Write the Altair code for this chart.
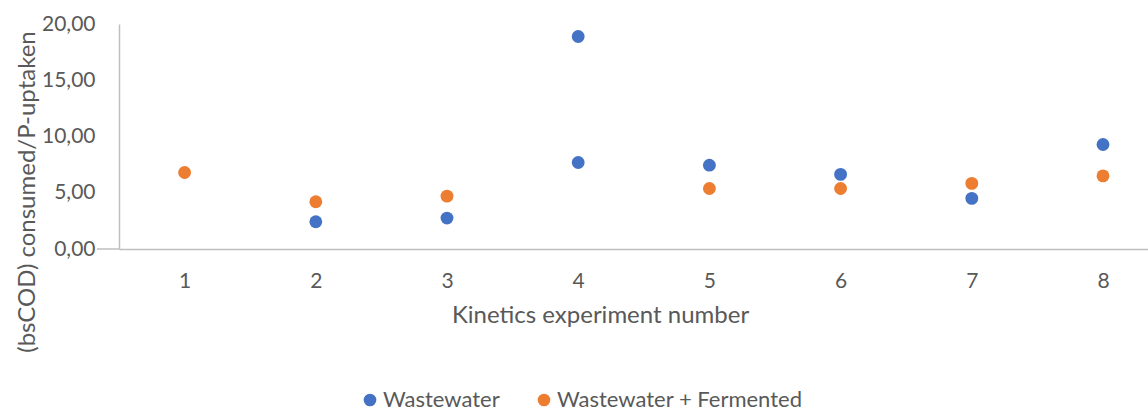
import altair as alt
import pandas as pd

# Kinetics experiments: (bsCOD) consumed / P uptaken
ww_experiment = [2, 3, 4, 4, 5, 6, 7, 8]
ww_ratio = [2.42, 2.75, 18.89, 7.69, 7.45, 6.63, 4.50, 9.29]

wf_experiment = [1, 2, 3, 5, 6, 7, 8]
wf_ratio = [6.80, 4.20, 4.70, 5.38, 5.38, 5.83, 6.50]

series_names = ["Wastewater", "Wastewater + Fermented"]
series_colors = ["#4472C4", "#ED7D31"]
y_ticks = [0, 5, 10, 15, 20]
x_ticks = [1, 2, 3, 4, 5, 6, 7, 8]

df = pd.concat([
    pd.DataFrame({"experiment": ww_experiment, "ratio": ww_ratio, "series": series_names[0]}),
    pd.DataFrame({"experiment": wf_experiment, "ratio": wf_ratio, "series": series_names[1]}),
], ignore_index=True)

FONT = "Lato"
TEXT = "#595959"
LINE = "#BFBFBF"
W, H = 1029, 225

x_scale = alt.Scale(domain=[0.5, 8.343], nice=False, zero=False)
y_scale = alt.Scale(domain=[0, 20], nice=False)

points = alt.Chart(df).mark_circle(size=165, opacity=1).encode(
    x=alt.X("experiment:Q", scale=x_scale,
            axis=alt.Axis(values=x_ticks, format="d", grid=False, ticks=False,
                          domainColor=LINE, domainWidth=1.5,
                          labelFont=FONT, labelFontSize=21, labelColor=TEXT,
                          labelBaseline="alphabetic", labelPadding=38,
                          title="Kinetics experiment number",
                          titleFont=FONT, titleFontSize=24, titleFontWeight="normal",
                          titleColor=TEXT, titleX=481, titleY=73,
                          titleBaseline="alphabetic", titleAlign="center")),
    y=alt.Y("ratio:Q", scale=y_scale,
            axis=alt.Axis(values=y_ticks, grid=False, ticks=False,
                          labelExpr="replace(format(datum.value, '.2f'), '.', ',')",
                          domainColor=LINE, domainWidth=1.5,
                          labelFont=FONT, labelFontSize=21, labelColor=TEXT,
                          labelPadding=24, labelBaseline="middle",
                          title="(bsCOD) consumed/P-uptaken",
                          titleFont=FONT, titleFontSize=24, titleFontWeight="normal",
                          titleColor=TEXT, titleAngle=270, titleX=-85, titleY=167.5,
                          titleBaseline="alphabetic", titleAlign="center")),
    color=alt.Color("series:N",
                    scale=alt.Scale(domain=series_names, range=series_colors),
                    legend=alt.Legend(orient="none", direction="horizontal",
                                      legendX=240, legendY=365, title=None,
                                      symbolType="circle", symbolSize=160,
                                      symbolStrokeWidth=0, symbolOpacity=1,
                                      labelFont=FONT, labelFontSize=22,
                                      labelColor=TEXT, labelOffset=2,
                                      labelLimit=400, columnPadding=33)),
)

# the horizontal axis line runs a little past the vertical axis
axis_stub = alt.Chart(pd.DataFrame({"v": [0]})).mark_rule(
    color=LINE, strokeWidth=1.5
).encode(
    x=alt.value(-22), x2=alt.value(0), y=alt.Y("v:Q", scale=y_scale)
)

chart = alt.layer(axis_stub, points).properties(
    width=W, height=H,
    autosize=alt.AutoSizeParams(type="none"),
    padding={"left": 119, "top": 24, "right": 0, "bottom": 163},
    background="white",
).configure_view(stroke=None)

chart.save("out.html", embed_options={"renderer": "svg", "actions": False})
